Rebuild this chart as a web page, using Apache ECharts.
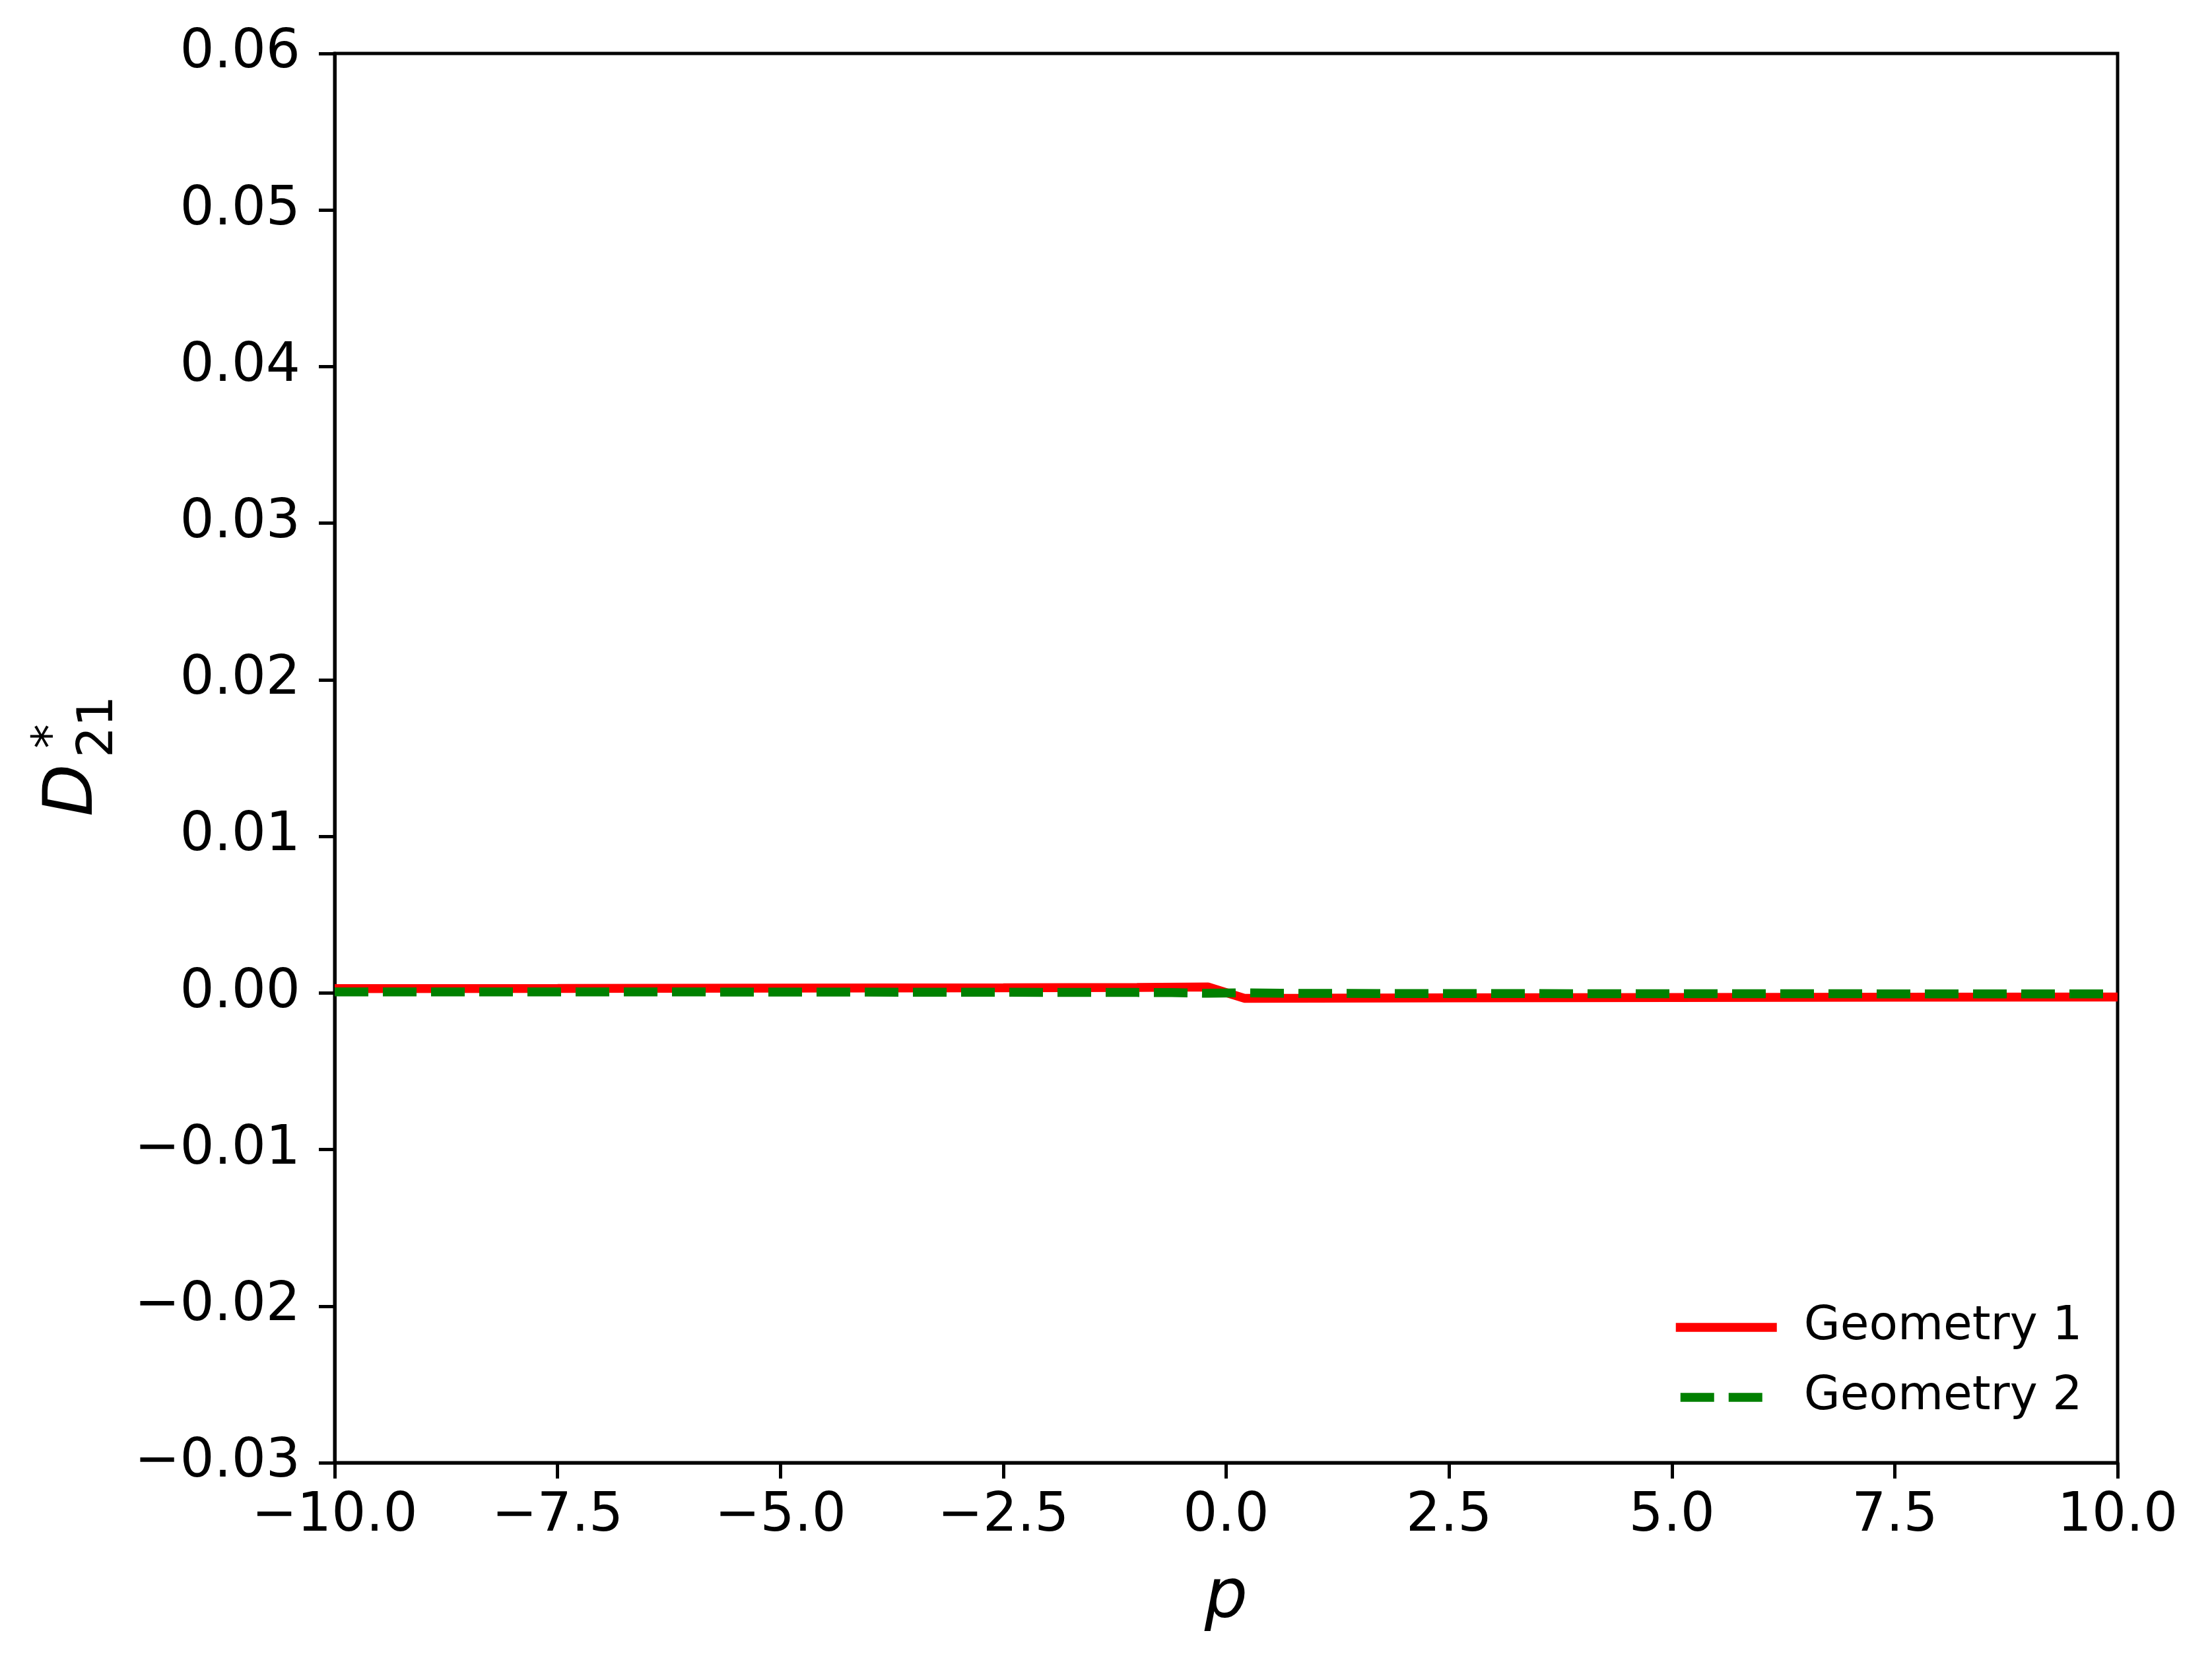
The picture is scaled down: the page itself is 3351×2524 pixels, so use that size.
<!DOCTYPE html>
<html>
<head>
<meta charset="utf-8">
<script src="https://cdn.jsdelivr.net/npm/echarts@6/dist/echarts.min.js"></script>
<style>
html, body { margin: 0; padding: 0; background: #ffffff; }
#chart { width: 3351px; height: 2524px; }
</style>
</head>
<body>
<div id="chart"></div>
<script>
// ---- data ----
const seriesNames = ['Geometry 1', 'Geometry 2'];
const pGeom1 = [-10, -7.5, -5, -2.5, -1, -0.204, 0.204, 1, 2.5, 5, 7.5, 10];
const dGeom1 = [0.00028, 0.00029, 0.00031, 0.00033, 0.00035, 0.00038, -0.00034, -0.00033, -0.00031, -0.00029, -0.00027, -0.00026];
const pGeom2 = [-10, -5, -1, -0.612, -0.204, 0.204, 0.612, 1, 5, 10];
const dGeom2 = [0.00007, 0.00006, 0.00003, 0.00002, -0.00002, 0.00001, -0.00002, -0.00003, -0.00005, -0.00006];
const xTicks = [-10, -7.5, -5, -2.5, 0, 2.5, 5, 7.5, 10];
const yTicks = [-0.03, -0.02, -0.01, 0, 0.01, 0.02, 0.03, 0.04, 0.05, 0.06];

const FONT = '"DejaVu Sans", "Liberation Sans", sans-serif';
const MINUS = '\u2212';
function fmt(v, d) {
  const r = Math.round(v * Math.pow(10, d)) / Math.pow(10, d);
  if (Math.abs(r) < 1e-12) return (0).toFixed(d);
  return (r < 0 ? MINUS : '') + Math.abs(r).toFixed(d);
}
function pairs(xs, ys) { return xs.map((x, i) => [x, ys[i]]); }

const chart = echarts.init(document.getElementById('chart'), null, { renderer: 'canvas' });
const option = {
  backgroundColor: '#ffffff',
  animation: false,
  grid: {
    left: 507, top: 81, right: 143, bottom: 308,
    show: true, borderColor: '#000000', borderWidth: 5, backgroundColor: 'transparent'
  },
  xAxis: {
    type: 'value',
    min: xTicks[0], max: xTicks[xTicks.length - 1], interval: 2.5,
    name: 'p', nameLocation: 'middle', nameGap: 156,
    nameTextStyle: { fontFamily: FONT, fontSize: 103, fontStyle: 'italic', color: '#000' },
    axisLine: { show: true, onZero: false, lineStyle: { color: '#000', width: 5 } },
    axisTick: { show: true, length: 24, lineStyle: { color: '#000', width: 5 } },
    axisLabel: { fontFamily: FONT, fontSize: 82, color: '#000', margin: 41, formatter: v => fmt(v, 1) },
    splitLine: { show: false }
  },
  yAxis: {
    type: 'value',
    min: yTicks[0], max: yTicks[yTicks.length - 1], interval: 0.01,
    axisLine: { show: true, onZero: false, lineStyle: { color: '#000', width: 5 } },
    axisTick: { show: true, length: 24, lineStyle: { color: '#000', width: 5 } },
    axisLabel: { fontFamily: FONT, fontSize: 82, color: '#000', margin: 52, formatter: v => fmt(v, 2) },
    splitLine: { show: false }
  },
  legend: {
    orient: 'vertical',
    left: 2532, top: 1971,
    padding: 0,
    itemWidth: 153, itemHeight: 80, itemGap: 26,
    data: seriesNames,
    lineStyle: { width: 13.5, dashOffset: 66 },
    itemStyle: { color: 'rgba(0,0,0,0)', borderWidth: 0, opacity: 0 },
    textStyle: { fontFamily: FONT, fontSize: 71, color: '#000', lineHeight: 80, padding: [0, 0, 0, 36] }
  },
  series: [
    {
      name: seriesNames[0], type: 'line', data: pairs(pGeom1, dGeom1),
      showSymbol: false, symbol: 'none', smooth: false, clip: true,
      lineStyle: { color: '#ff0000', width: 13.5, type: 'solid' },
      itemStyle: { color: '#ff0000' }, z: 2
    },
    {
      name: seriesNames[1], type: 'line', data: pairs(pGeom2, dGeom2),
      showSymbol: false, symbol: 'none', smooth: false, clip: true,
      lineStyle: { color: '#008000', width: 13.5, type: [51, 22] },
      itemStyle: { color: '#008000' }, z: 3
    }
  ],
  graphic: [
    {
      type: 'group',
      x: 143, y: 1233,
      rotation: Math.PI / 2,
      children: [
        { type: 'text', style: { text: 'D', x: -4, y: -31, fontSize: 103, fontStyle: 'italic', fontFamily: FONT, fill: '#000', align: 'left', verticalAlign: 'middle' } },
        { type: 'text', style: { text: '*', x: 99, y: -61, fontSize: 74, fontFamily: FONT, fill: '#000', align: 'left', verticalAlign: 'middle' } },
        { type: 'text', style: { text: '21', x: 85, y: 8, fontSize: 74, fontFamily: FONT, fill: '#000', align: 'left', verticalAlign: 'middle' } }
      ]
    }
  ]
};
chart.setOption(option);
</script>
</body>
</html>
